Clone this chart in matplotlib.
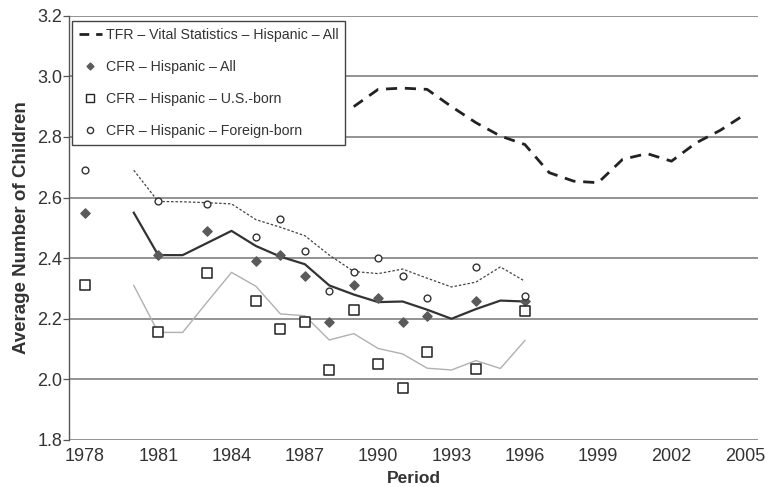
import matplotlib.pyplot as plt
from matplotlib.lines import Line2D

plt.rcParams["font.family"] = ["Liberation Sans", "DejaVu Sans"]

# CFR point estimates (markers)
anos_cfr = [1978, 1981, 1983, 1985, 1986, 1987, 1988, 1989, 1990, 1991, 1992, 1994, 1996]
cfr_todos = [2.55, 2.41, 2.49, 2.39, 2.41, 2.34, 2.19, 2.31, 2.27, 2.19, 2.21, 2.26, 2.26]
cfr_eua = [2.31, 2.155, 2.35, 2.26, 2.165, 2.19, 2.03, 2.23, 2.05, 1.97, 2.09, 2.035, 2.225]
cfr_estrangeiro = [2.69, 2.59, 2.58, 2.47, 2.53, 2.425, 2.29, 2.355, 2.40, 2.34, 2.27, 2.37, 2.275]

# Smoothed CFR lines (annual)
anos_linha = list(range(1980, 1997))
linha_todos = [2.55, 2.41, 2.41, 2.45, 2.49, 2.44, 2.405, 2.38, 2.31, 2.28, 2.255, 2.257, 2.23, 2.20, 2.232, 2.26, 2.257]
linha_eua = [2.31, 2.155, 2.155, 2.255, 2.353, 2.307, 2.216, 2.21, 2.13, 2.151, 2.102, 2.084, 2.037, 2.031, 2.062, 2.036, 2.128]
linha_estrangeiro = [2.69, 2.587, 2.586, 2.583, 2.579, 2.527, 2.502, 2.474, 2.41, 2.356, 2.349, 2.364, 2.334, 2.305, 2.321, 2.371, 2.324]

# TFR - Vital Statistics
anos_tfr = list(range(1989, 2006))
tfr = [2.90, 2.957, 2.961, 2.957, 2.90, 2.847, 2.803, 2.775, 2.682, 2.654, 2.649, 2.726, 2.745, 2.72, 2.78, 2.822, 2.874]

anos_ticks = list(range(1978, 2006, 3))
valores_ticks = [1.8, 2.0, 2.2, 2.4, 2.6, 2.8, 3.0, 3.2]

fig = plt.figure(figsize=(7.69, 4.87), dpi=100)
ax = fig.add_axes([69 / 769, 1 - 440 / 487, (758 - 69) / 769, (440 - 15.7) / 487])

for v in valores_ticks:
    ax.axhline(v, color="#8a8a8a", linewidth=1.3, zorder=1)

ax.plot(anos_tfr, tfr, color="#222222", linewidth=2.0, dashes=(4, 2.8), zorder=3)
ax.plot(anos_linha, linha_todos, color="#333333", linewidth=1.6, zorder=3)
ax.plot(anos_linha, linha_estrangeiro, color="#444444", linewidth=0.9, dashes=(2, 1.5), zorder=3)
ax.plot(anos_linha, linha_eua, color="#b0b0b0", linewidth=1.0, zorder=3)

ax.scatter(anos_cfr, cfr_todos, marker="D", s=22, color="#5a5a5a", edgecolors="#5a5a5a", zorder=4)
ax.scatter(anos_cfr, cfr_eua, marker="s", s=55, facecolors="white", edgecolors="#222222", linewidths=1.1, zorder=4)
ax.scatter(anos_cfr, cfr_estrangeiro, marker="o", s=24, facecolors="white", edgecolors="#333333", linewidths=1.0, zorder=4)

ax.set_xlim(1977.35, 2005.54)
ax.set_ylim(1.8, 3.2)
ax.set_xticks(anos_ticks)
ax.set_yticks(valores_ticks)
ax.set_yticklabels([f"{v:.1f}" for v in valores_ticks])
ax.tick_params(axis="x", length=0, pad=6, labelsize=13, colors="#333333")
ax.tick_params(axis="y", length=4, width=0.9, color="#555555", pad=1, labelsize=13, labelcolor="#333333")

for lado in ["top", "right", "bottom"]:
    ax.spines[lado].set_visible(False)
ax.spines["left"].set_color("#555555")
ax.spines["left"].set_linewidth(1.0)

ax.set_xlabel("Period", fontsize=12.5, fontweight="bold", color="#333333", labelpad=4)
ax.set_ylabel("Average Number of Children", fontsize=13.5, fontweight="bold", color="#333333", labelpad=5)

itens_legenda = [
    Line2D([], [], color="#222222", linewidth=2.0, dashes=(3.5, 2.5)),
    Line2D([], [], linestyle="none", marker="D", markersize=3.5, color="#5a5a5a"),
    Line2D([], [], linestyle="none", marker="s", markersize=6, markerfacecolor="white", markeredgecolor="#222222"),
    Line2D([], [], linestyle="none", marker="o", markersize=4.5, markerfacecolor="white", markeredgecolor="#333333"),
]
nomes_legenda = [
    "TFR \u2013 Vital Statistics \u2013 Hispanic \u2013 All",
    "CFR \u2013 Hispanic \u2013 All",
    "CFR \u2013 Hispanic \u2013 U.S.-born",
    "CFR \u2013 Hispanic \u2013 Foreign-born",
]
legenda = ax.legend(
    itens_legenda, nomes_legenda,
    loc="upper left", bbox_to_anchor=(0.004, 0.9875), borderaxespad=0,
    fontsize=10.2, frameon=True, fancybox=False, edgecolor="#444444",
    framealpha=1, handlelength=1.6, handletextpad=0.3, labelspacing=1.27,
    borderpad=0.5,
)
legenda.get_frame().set_linewidth(1.0)
legenda.set_zorder(5)
for texto in legenda.get_texts():
    texto.set_color("#333333")

fig.savefig("out.png", dpi=100)
